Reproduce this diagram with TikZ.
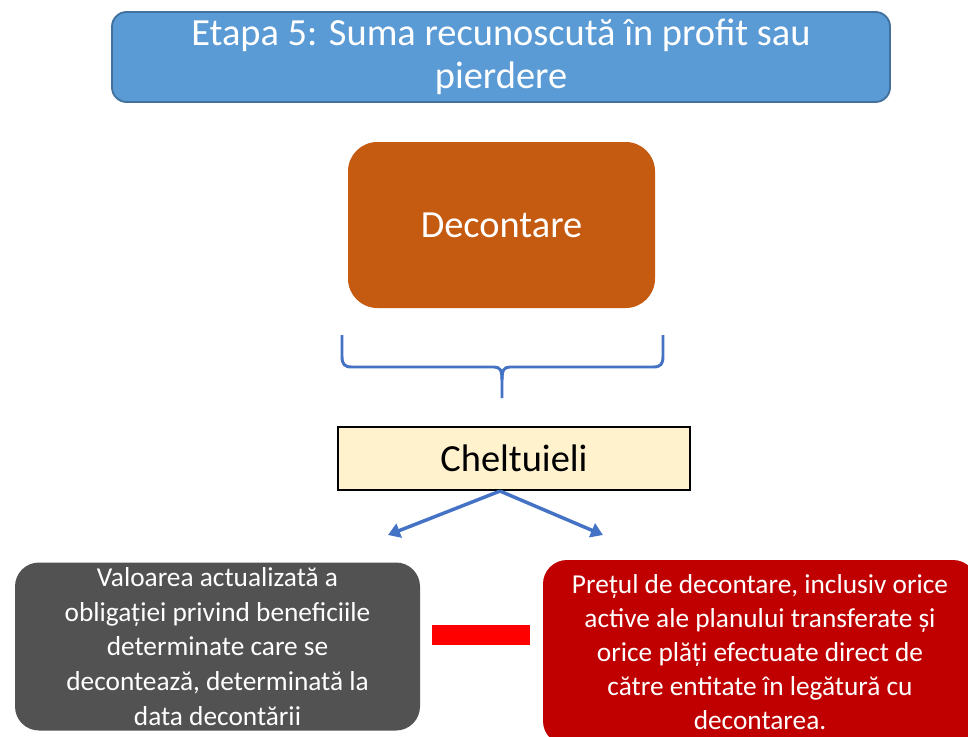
\documentclass[tikz,border=0pt]{standalone}
\usepackage{fontspec}
\setmainfont{Carlito}
\usetikzlibrary{arrows.meta,positioning}
\definecolor{titleblue}{HTML}{5B9BD5}
\definecolor{titleedge}{HTML}{41719C}
\definecolor{burnt}{HTML}{C55A11}
\definecolor{cream}{HTML}{FFF2CC}
\definecolor{linkblue}{HTML}{4472C4}
\definecolor{slate}{HTML}{525252}
\definecolor{crimson}{HTML}{C00000}

\begin{document}
\begin{tikzpicture}[x=0.75pt, y=-0.75pt,
    every node/.style={font=\fontsize{20.5}{25.5}\selectfont, align=center, inner sep=0pt},
    card/.style={rectangle, rounded corners=18pt, text=white},
    link/.style={-{Triangle[length=9pt, width=11pt]}, line width=2.6pt, linkblue},
]
\useasboundingbox (0,0) rectangle (968,736);
\clip (0,0) rectangle (968,736);

% Title
\node[card, rounded corners=11pt, fill=titleblue, draw=titleedge, line width=1.4pt,
    minimum width=583.5pt, minimum height=67.5pt,
    font=\fontsize{28.8}{32.5}\selectfont] (title) at (501,57)
    {Etapa 5: Suma recunoscută în profit sau\\pierdere};

% Settlement
\node[card, rounded corners=22pt, fill=burnt,
    minimum width=230.25pt, minimum height=124.5pt,
    font=\fontsize{28.8}{32}\selectfont] (settle) at (501.5,225) {Decontare};

% Brace under the settlement box
\draw[linkblue, line width=2.2pt, line join=round]
    (342,335) -- (342,356) .. controls (342,364) and (344,367) .. (352,367)
    -- (494,367) .. controls (500,367) and (502,370) .. (502,380) -- (502,398);
\draw[linkblue, line width=2.2pt, line join=round]
    (663,335) -- (663,356) .. controls (663,364) and (661,367) .. (653,367)
    -- (510,367) .. controls (504,367) and (502,370) .. (502,380);

% Expenses
\node[rectangle, fill=cream, draw=black, line width=1.6pt,
    minimum width=264pt, minimum height=47.25pt,
    font=\fontsize{28.8}{32}\selectfont] (cost) at (514,458.5) {Cheltuieli};

\coordinate (leftend) at (388,535);
\coordinate (rightend) at (603,535);
\draw[link] ([xshift=-10.5pt]cost.south) -- (leftend);
\draw[link] ([xshift=-10.5pt]cost.south) -- (rightend);

% Present value of the obligation
\node[card, fill=slate, minimum width=303.75pt, minimum height=126pt,
    font=\fontsize{20.5}{26}\selectfont] (obligation) at (217.5,646.5)
    {Valoarea actualizată a\\obligației privind beneficiile\\determinate care se\\decontează, determinată la\\data decontării};

% Minus sign
\node[rectangle, fill=red, minimum width=73.5pt, minimum height=15pt] (minus) at (481,635) {};

% Settlement price
\node[card, fill=crimson, minimum width=325.5pt, minimum height=138.75pt] (price) at (760,652.5)
    {Prețul de decontare, inclusiv orice\\active ale planului transferate și\\orice plăți efectuate direct de\\către entitate în legătură cu\\decontarea.};
\end{tikzpicture}
\end{document}
